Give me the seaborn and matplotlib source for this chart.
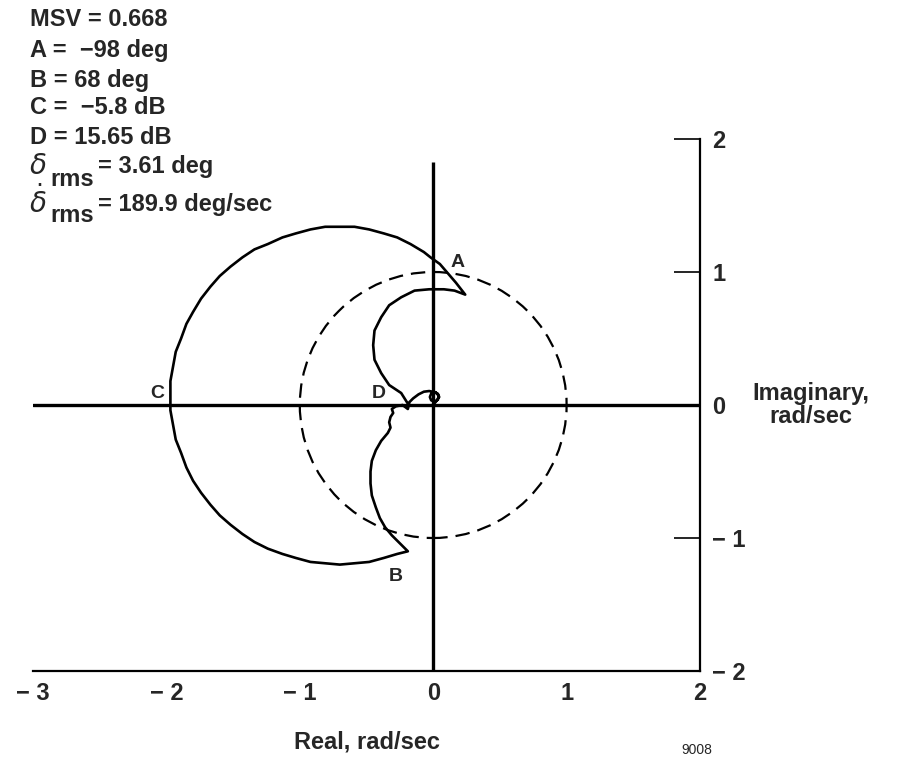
import numpy as np
import pandas as pd
import seaborn as sns
from matplotlib import pyplot as plt

# Nyquist locus (real, imaginary in rad/sec)
# small loop at the origin, upper inner lobe, outer arc, lower inner lobe
nyq_re = [0.00, 0.02, 0.045, 0.035, 0.01, -0.015, -0.025, -0.015, 0.01, 0.035, 0.04, 0.02,
          -0.03, -0.07, -0.11, -0.15, -0.19,
          -0.24, -0.33, -0.39, -0.44, -0.45, -0.44, -0.39, -0.33, -0.24, -0.14, -0.03, 0.08, 0.16, 0.24,
          0.17, 0.11, 0.05, -0.02, -0.07, -0.17, -0.27, -0.37, -0.48, -0.59, -0.70, -0.81, -0.92,
          -1.03, -1.13, -1.24, -1.34, -1.43, -1.52, -1.60, -1.67, -1.74, -1.80, -1.85, -1.89, -1.93,
          -1.95, -1.97, -1.97, -1.95, -1.93, -1.89, -1.85, -1.80, -1.74, -1.67, -1.60, -1.52, -1.43,
          -1.34, -1.24, -1.13, -1.03, -0.92, -0.81, -0.70, -0.59, -0.48, -0.37, -0.27, -0.19,
          -0.25, -0.31, -0.36, -0.40, -0.43, -0.46, -0.47, -0.47, -0.46, -0.43, -0.39, -0.34,
          -0.32, -0.33, -0.32, -0.30, -0.31, -0.28, -0.23, -0.19, -0.18]
nyq_im = [0.00, 0.025, 0.06, 0.085, 0.095, 0.085, 0.06, 0.035, 0.025, 0.04, 0.07, 0.095,
          0.105, 0.10, 0.08, 0.05, 0.01,
          0.09, 0.15, 0.24, 0.34, 0.45, 0.56, 0.66, 0.75, 0.81, 0.86, 0.87, 0.87, 0.86, 0.83,
          0.92, 0.99, 1.06, 1.11, 1.15, 1.21, 1.26, 1.29, 1.32, 1.34, 1.34, 1.34, 1.32,
          1.29, 1.26, 1.21, 1.17, 1.11, 1.04, 0.97, 0.89, 0.80, 0.70, 0.61, 0.50, 0.40,
          0.29, 0.18, -0.04, -0.15, -0.26, -0.36, -0.47, -0.57, -0.66, -0.75, -0.83, -0.90, -0.97,
          -1.03, -1.08, -1.12, -1.15, -1.18, -1.19, -1.20, -1.19, -1.18, -1.15, -1.12, -1.10,
          -1.04, -0.98, -0.92, -0.85, -0.77, -0.68, -0.59, -0.50, -0.42, -0.34, -0.27, -0.21,
          -0.17, -0.13, -0.09, -0.06, -0.03, -0.01, 0.00, -0.03, 0.01]

circle_radius = 1.0
imag_axis_top = 1.83

x_ticks = [-3, -2, -1, 0, 1, 2]
x_ticklabels = ['\u2212 3', '\u2212 2', '\u2212 1', '0', '1', '2']
y_ticks = [-2, -1, 0, 1, 2]
y_ticklabels = ['\u2212 2', '\u2212 1', '0', '1', '2']

point_names = ['A', 'B', 'C', 'D']
point_re = [0.18, -0.28, -2.07, -0.41]
point_im = [1.07, -1.29, 0.09, 0.09]

summary_lines = ['MSV = 0.668', 'A =  \u221298 deg', 'B = 68 deg', 'C =  \u22125.8 dB', 'D = 15.65 dB']
delta_rms = '= 3.61 deg'
delta_dot_rms = '= 189.9 deg/sec'

sns.set_style('white')
plt.rcParams['font.family'] = ['Liberation Sans', 'DejaVu Sans']
plt.rcParams['mathtext.fontset'] = 'dejavusans'

W, H = 903, 759
fig = plt.figure(figsize=(W / 100, H / 100), dpi=100)
ax = fig.add_axes([33 / W, 88 / H, 667 / W, 532 / H])

def px(x, y):
    return x / W, 1 - y / H

df = pd.DataFrame({'re': nyq_re, 'im': nyq_im})
sns.lineplot(data=df, x='re', y='im', sort=False, estimator=None, color='black', lw=1.9, ax=ax)

ax.add_patch(plt.Circle((0, 0), circle_radius, fill=False, color='black', lw=1.6, ls=(0, (6.5, 3.6))))
ax.axhline(0, color='black', lw=2.4)
ax.vlines(0, -2, imag_axis_top, color='black', lw=2.4)

ax.set_xlim(-3, 2)
ax.set_ylim(-2, 2)
for s in ['left', 'top']:
    ax.spines[s].set_visible(False)
for s in ['bottom', 'right']:
    ax.spines[s].set_linewidth(1.6)
    ax.spines[s].set_color('black')

ax.yaxis.tick_right()
ax.set_xticks(x_ticks)
ax.set_xticklabels(x_ticklabels, fontsize=17, fontweight='bold')
ax.set_yticks(y_ticks)
ax.set_yticklabels(y_ticklabels, fontsize=17, fontweight='bold')
ax.tick_params(axis='both', direction='in', length=19, width=1.2, color='black')
ax.tick_params(axis='x', pad=8)
ax.tick_params(axis='y', pad=9)

ax.set_xlabel('Real, rad/sec', fontsize=17, fontweight='bold', labelpad=18)
ax.yaxis.set_label_position('right')
ax.set_ylabel('Imaginary,\nrad/sec', fontsize=17, fontweight='bold', rotation=0,
              ha='center', va='center', linespacing=1.05)
ax.yaxis.set_label_coords((811 - 33) / 667, 0.5)

for name, xr, yi in zip(point_names, point_re, point_im):
    ax.text(xr, yi, name, fontsize=14, fontweight='bold', ha='center', va='center')

ys = [20, 50, 80, 108, 138]
for line, y in zip(summary_lines, ys):
    fig.text(*px(30, y), line, fontsize=17, fontweight='bold', ha='left', va='center')

fig.text(*px(29, 167), r'$\delta$', fontsize=20, ha='left', va='center')
fig.text(*px(50, 180), 'rms', fontsize=17, fontweight='bold', ha='left', va='center')
fig.text(*px(98, 167), delta_rms, fontsize=17, fontweight='bold', ha='left', va='center')
fig.text(*px(29, 202), r'$\dot{\delta}$', fontsize=20, ha='left', va='center')
fig.text(*px(50, 216), 'rms', fontsize=17, fontweight='bold', ha='left', va='center')
fig.text(*px(98, 204), delta_dot_rms, fontsize=17, fontweight='bold', ha='left', va='center')

fig.text(*px(697, 750), '9008', fontsize=10, ha='center', va='center')

fig.savefig('out.png', dpi=100)
